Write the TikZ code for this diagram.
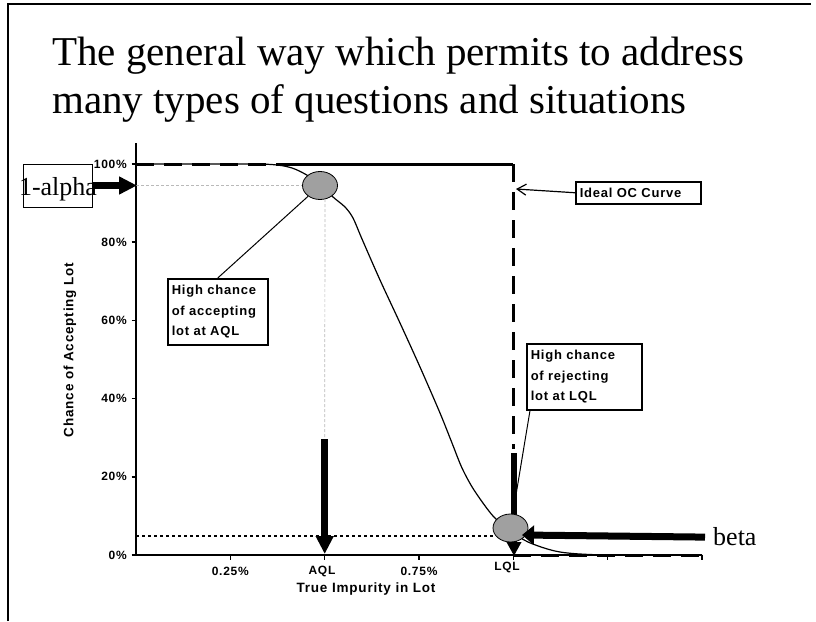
\documentclass[tikz,border=0pt]{standalone}
\usepackage{fontspec}
\setmainfont{Liberation Serif}
\newfontfamily\chartfont{Liberation Sans}[LetterSpace=6]
\usetikzlibrary{arrows.meta,shapes.geometric}
\definecolor{markergray}{RGB}{160,160,160}
\definecolor{guidegray}{RGB}{185,185,185}
\begin{document}
\begin{tikzpicture}[x=1pt,y=-1pt,
  frame/.style={line width=2pt},
  titletext/.style={font=\fontsize{41}{48}\selectfont, inner sep=0pt, anchor=base west},
  bigtext/.style={font=\fontsize{26}{30}\selectfont, inner sep=0pt},
  axisline/.style={line width=1.5pt},
  ticklab/.style={font=\chartfont\bfseries\fontsize{12}{14}\selectfont, inner sep=0pt},
  axistitle/.style={font=\chartfont\bfseries\fontsize{13.5}{15}\selectfont, inner sep=0pt},
  idealdash/.style={line width=3pt, dash pattern=on 18pt off 10pt},
  idealsolid/.style={line width=3pt},
  oc/.style={line width=1.2pt},
  guide/.style={guidegray, line width=0.7pt, dash pattern=on 3pt off 2pt},
  betaline/.style={line width=2pt, dash pattern=on 3pt off 3pt},
  marker/.style={ellipse, draw, line width=0.8pt, fill=markergray, inner sep=0pt},
  callout/.style={draw, line width=1.5pt, align=left, inner sep=4pt,
    font=\chartfont\bfseries\fontsize{13}{20.5}\selectfont},
  leader/.style={line width=1pt},
  fatarrow/.style={line width=6.5pt, -{Triangle[length=18pt,width=17pt]}},
  betaarrow/.style={line width=7pt, -{Triangle[length=12pt,width=19pt]}},
  openarrow/.style={line width=1.2pt, -{Straight Barb[length=9pt,width=11pt]}}
]
\useasboundingbox (0,0) rectangle (816,621);

% frame
\draw[frame] (8,621) -- (8,4) -- (811,4);

% title
\node[titletext] (title1) at (52,65) {The general way which permits to address};
\node[titletext] (title2) at (52,113) {many types of questions and situations};

% axes
\coordinate (origin) at (136,555);
\coordinate (ytop) at (136,143);
\coordinate (xend) at (702,555);
\draw[axisline] (ytop) -- (origin) -- (xend);
\foreach \i/\y/\l in {1/164/100\%,2/242.2/80\%,3/320.4/60\%,4/398.6/40\%,5/476.8/20\%,6/555/0\%}{
  \draw[axisline] (131.5,\y) -- (136,\y);
  \node[ticklab, anchor=east] (ylab\i) at (127,\y) {\l};
}
\foreach \i/\x in {1/230.3,2/324.7,3/419,4/513.3,5/607.7,6/702}{
  \draw[axisline] (\x,555) -- (\x,560);
}
\node[ticklab] (xlab1) at (230.3,571) {0.25\%};
\node[ticklab] (xlab2) at (322,571) {AQL};
\node[ticklab] (xlab3) at (419,571) {0.75\%};
\node[ticklab] (xlab4) at (507,567) {LQL};
\node[axistitle] (xtitle) at (366,589) {True Impurity in Lot};
\node[axistitle, rotate=90] (ytitle) at (70,350) {Chance of Accepting Lot};

% ideal OC curve
\draw[idealdash] (136,164) -- (277,164);
\draw[idealsolid] (277,164) -- (513,164);
\draw[idealdash] (513,164) -- (513,449);
\draw[idealdash] (513,555) -- (702,555);

% actual OC curve
\draw[oc] plot[smooth, tension=0.5] coordinates {(136,164) (250,164) (277,165) (292,168) (305,174) (320,184) (333,197) (345,207) (353,218) (362,239) (380,280) (400,323) (420,367) (440,413) (452,443) (462,468) (474,490) (493,516) (510,530) (528,542) (560,552) (607,555) (702,555)};

% guides
\node[marker, minimum width=35pt, minimum height=28pt] (aqlpt) at (320,185.5) {};
\coordinate (aqlstart) at (324.7,439);
\coordinate (aqlend) at (324.7,554);
\coordinate (lqlstart) at (514,453);
\coordinate (lqlend) at (514,556);
\coordinate (betaend) at (494,536);
\draw[guide] (136,185.5) -- (aqlpt.west);
\draw[guide] (325,199) -- (aqlstart);
\draw[fatarrow] (aqlstart) -- (aqlend);
\draw[fatarrow, -{Triangle[length=14pt,width=14pt]}] (lqlstart) -- (lqlend);

\node[marker, minimum width=35pt, minimum height=28pt] (lqlpt) at (510.5,528) {};
\draw[betaline] (136,536) -- (betaend);

% 1-alpha
\node[draw, line width=0.8pt, minimum width=69pt, minimum height=43pt, inner sep=0pt] (alphabox) at (57.5,185.5) {};
\node[bigtext, anchor=base] (alphatxt) at (58,195) {1-alpha};
\coordinate (alphatip) at (137,185.5);
\draw[fatarrow] (alphabox.east) -- (alphatip);

% beta
\node[bigtext, anchor=base west] (betatxt) at (713,545) {beta};
\coordinate (betatip) at (522,535);
\draw[betaarrow] ([xshift=-8pt,yshift=-1pt]betatxt.west) -- (betatip);

% callouts
\node[callout, anchor=north west, minimum width=100pt, minimum height=66pt, text width=92pt] (aqlbox) at (167,278) {High chance\\of accepting\\lot at AQL};
\node[callout, anchor=north west, minimum width=115pt, minimum height=66pt, text width=107pt] (lqlbox) at (526,343) {High chance\\of rejecting\\lot at LQL};
\node[callout, anchor=north west, minimum width=125pt, minimum height=22pt, text width=117pt, inner sep=3pt,
  font=\chartfont\bfseries\fontsize{13}{15}\selectfont] (idealbox) at (575,181) {Ideal OC Curve};
\coordinate (idealpt) at (516,189);

\draw[leader] (aqlbox.north) -- (aqlpt);
\draw[leader] ([xshift=4pt]lqlbox.south west) -- (lqlpt);
\draw[openarrow] (idealbox.west) -- (idealpt);
\end{tikzpicture}
\end{document}
